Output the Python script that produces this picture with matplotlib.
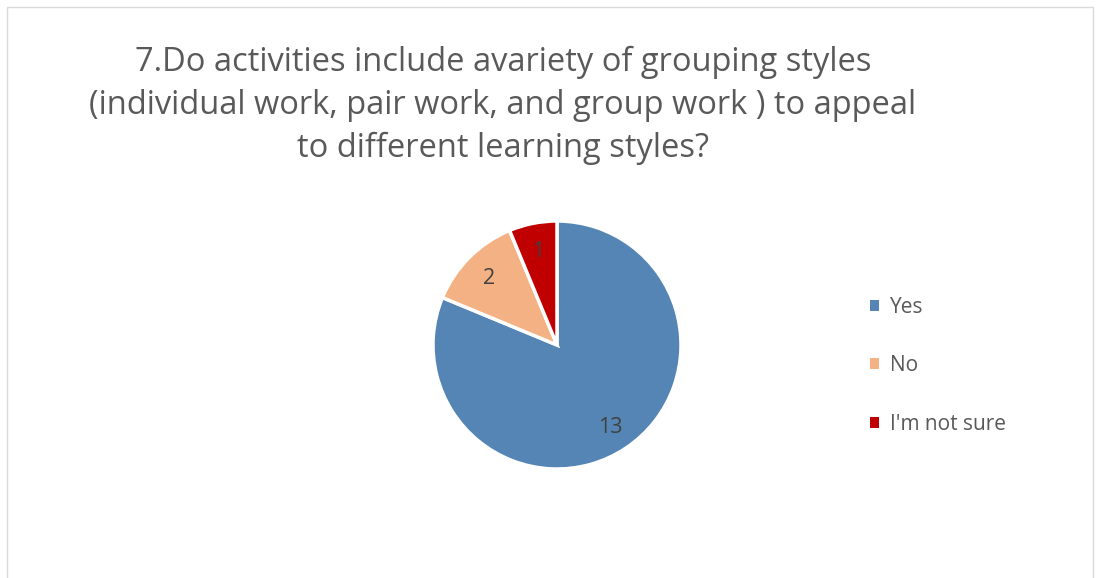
import matplotlib
matplotlib.use("Agg")
import matplotlib.pyplot as plt
from matplotlib.patches import Rectangle

categories = ["Yes", "No", "I'm not sure"]
values = [13, 2, 1]
colors = ["#5585B5", "#F4B183", "#C00000"]
title_lines = ["7.Do activities include avariety of grouping styles",
               "(individual work, pair work, and group work ) to appeal",
               "to different learning styles?"]

W, H = 1098, 578
fig = plt.figure(figsize=(W / 100, H / 100), dpi=100)
plt.rcParams['font.family'] = ['Open Sans', 'DejaVu Sans']
text_color = "#595959"

# border
fig.patches.append(Rectangle((7 / W, -0.1), (1093 - 7) / W, 1.1 - 7 / H,
                             transform=fig.transFigure, fill=False,
                             edgecolor="#D9D9D9", linewidth=1))

# title
for i, line in enumerate(title_lines):
    fig.text(503 / W, 1 - (62 + 43 * i) / H, line, ha="center", va="center",
             fontsize=23.5, color=text_color)

cx, cy, r = 557, 345, 124
ax = fig.add_axes([(cx - r) / W, (H - cy - r) / H, 2 * r / W, 2 * r / H])
wedges, texts, autotexts = ax.pie(values, colors=colors, startangle=90, counterclock=False,
                                  autopct=lambda p: f"{round(p * sum(values) / 100):d}",
                                  pctdistance=0.78,
                                  wedgeprops=dict(edgecolor="white", linewidth=2.5),
                                  textprops=dict(color="#404040", fontsize=15.5))
for t in autotexts:
    t.set_va("top")
    x, y = t.get_position()
    t.set_position((x, y + 0.07))
ax.set_xlim(-1, 1)
ax.set_ylim(-1, 1)
ax.set_aspect("equal")
ax.axis("off")

leg = fig.legend(wedges, categories, loc="upper left", bbox_to_anchor=(851 / W, 1 - 278 / H),
                 frameon=False, fontsize=15, labelcolor=text_color,
                 handlelength=0.45, handleheight=0.45, handletextpad=0.5,
                 labelspacing=1.8)
for h in leg.legend_handles:
    h.set_edgecolor("none")

fig.savefig("out.png", dpi=100)
